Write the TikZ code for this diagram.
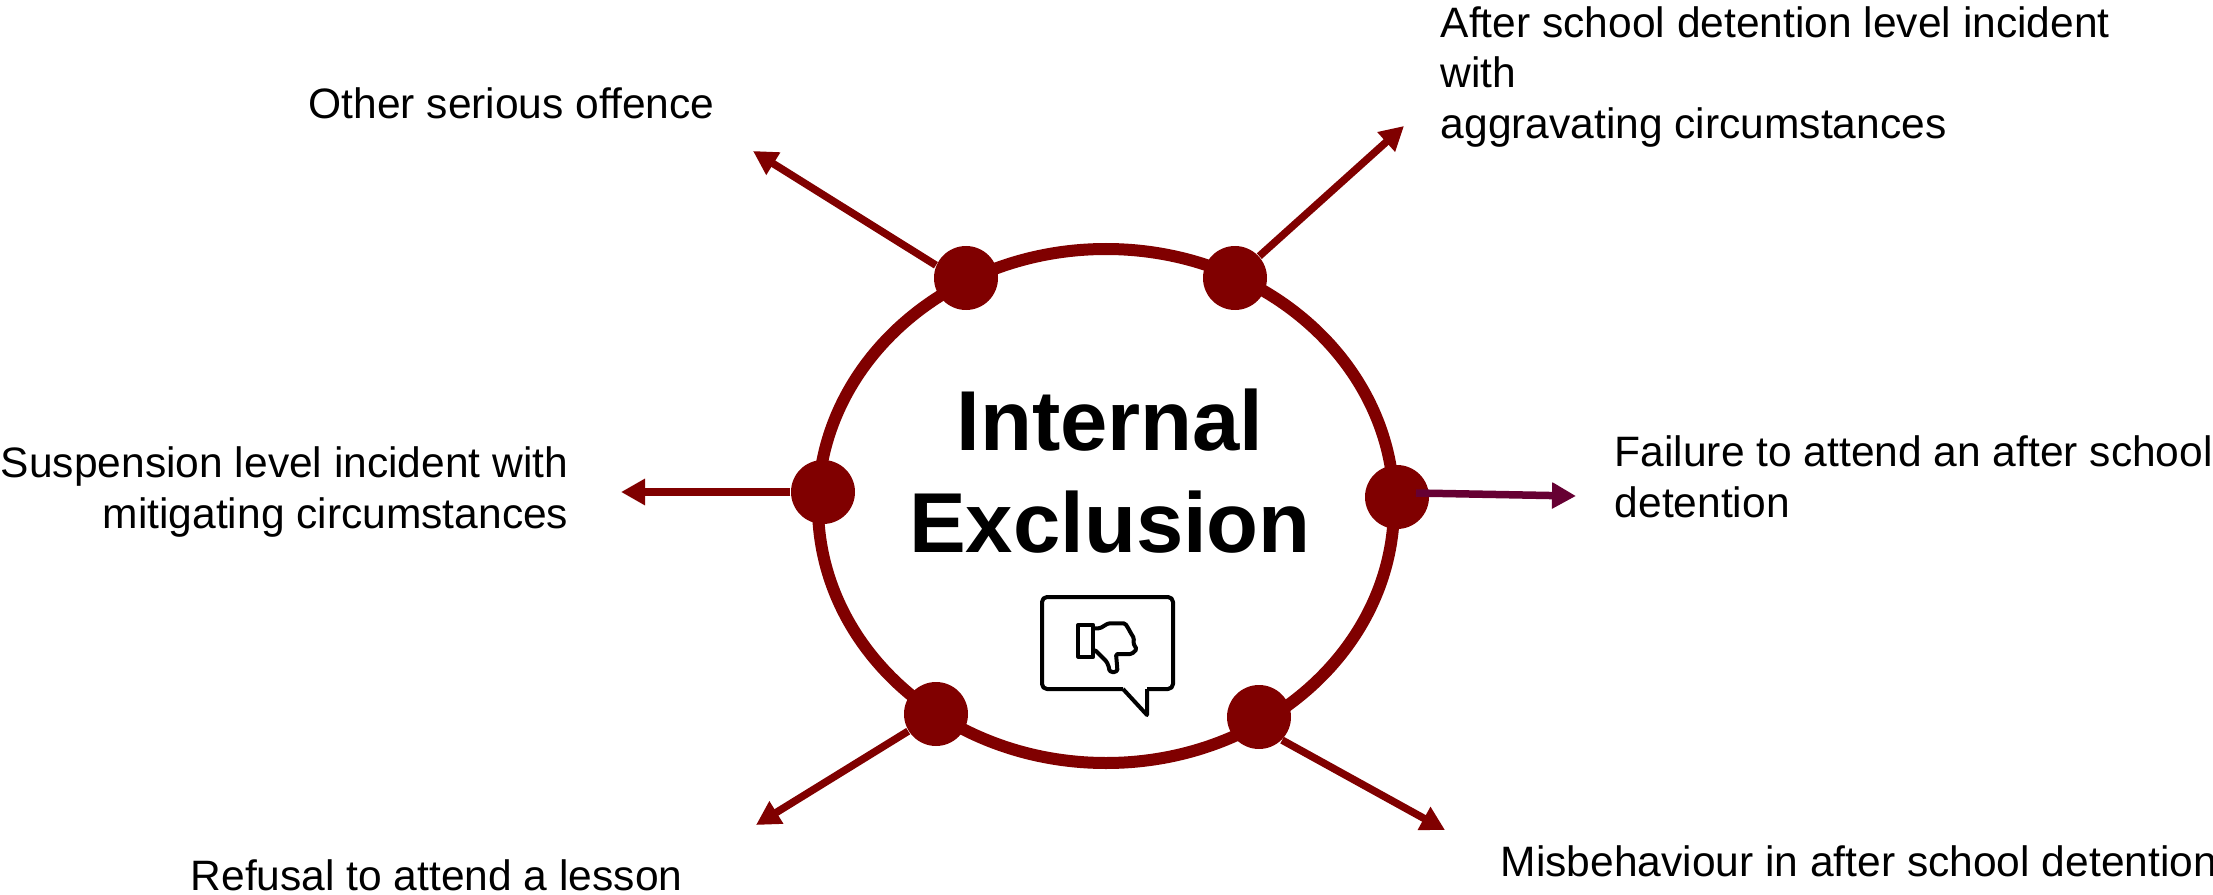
\documentclass[tikz,border=0pt]{standalone}
\usepackage{fontspec}
\setmainfont{Liberation Sans}
\usetikzlibrary{arrows.meta}
\definecolor{ringred}{HTML}{800000}
\definecolor{plum}{HTML}{660033}
\tikzset{
  dot/.style={circle,fill=ringred,inner sep=0pt,minimum size=0.64cm},
  spoke/.style={ringred,line width=0.075cm,-{Triangle[length=0.24cm,width=0.25cm]}},
  label/.style={inner sep=0pt,font=\fontsize{12.1}{14.5}\selectfont},
  icon/.style={black,line width=0.04cm,line join=round}
}
\begin{document}
\begin{tikzpicture}[line cap=butt]
  \useasboundingbox (0,0) rectangle (22.13,8.94);
  \draw[ringred,line width=0.12cm] (11.06,3.88) ellipse (2.88 and 2.57);

  \node[dot] (nw) at (9.66,6.16) {};
  \node[dot] (ne) at (12.35,6.16) {};
  \node[dot] (w) at (8.23,4.02) {};
  \node[dot] (e) at (13.97,3.97) {};
  \node[dot] (sw) at (9.36,1.80) {};
  \node[dot] (se) at (12.59,1.77) {};

  \coordinate (nwend) at (7.53,7.43);
  \coordinate (neend) at (14.04,7.68);
  \coordinate (wend) at (6.21,4.02);
  \coordinate (estart) at (14.16,4.01);
  \coordinate (eend) at (15.76,3.98);
  \coordinate (swend) at (7.56,0.69);
  \coordinate (seend) at (14.45,0.64);

  \draw[spoke] (nw.157)--(nwend);
  \draw[spoke] (ne)--(neend);
  \draw[spoke] (w)--(wend);
  \draw[spoke,plum] (estart)--(eend);
  \draw[spoke] (sw)--(swend);
  \draw[spoke] (se.south east)--(seend);

  \node[align=center,inner sep=0pt,font=\bfseries\fontsize{24.2}{28.8}\selectfont] (title) at (11.10,4.23) {Internal\\Exclusion};

  \node[label,anchor=west] (offence) at (3.08,7.91) {Other serious offence};
  \node[label,anchor=west,align=left] (detention) at (14.40,8.17) {After school detention level incident\\with\\aggravating circumstances};
  \node[label,anchor=east,align=right] (suspension) at (5.69,4.02) {Suspension level incident with\\mitigating circumstances};
  \node[label,anchor=west,align=left] (failure) at (16.14,4.17) {Failure to attend an after school\\detention};
  \node[label,anchor=west] (refusal) at (1.90,0.19) {Refusal to attend a lesson};
  \node[label,anchor=west] (misbehaviour) at (15.00,0.33) {Misbehaviour in after school detention};

  \begin{scope}[shift={(10.42,2.05)}]
    \draw[icon,rounded corners=0.05cm] (0.81,0)--(0,0)--(0,0.92)--(1.31,0.92)--(1.31,0)--(1.05,0);
    \draw[icon] (0.81,0)--(1.05,-0.26)--(1.05,0);
    \draw[icon] (0.363,0.323) rectangle (0.513,0.64);
    \draw[icon,rounded corners=0.015cm] (0.513,0.607)--(0.58,0.607)--(0.663,0.657)--(0.83,0.657)--(0.863,0.607)--(0.88,0.573)--(0.92,0.507)--(0.913,0.457)--(0.947,0.397)--(0.897,0.35)--(0.74,0.35)--(0.753,0.207) arc (0:-180:0.04)--(0.647,0.273)--(0.53,0.39)--(0.513,0.39);
  \end{scope}
\end{tikzpicture}
\end{document}
